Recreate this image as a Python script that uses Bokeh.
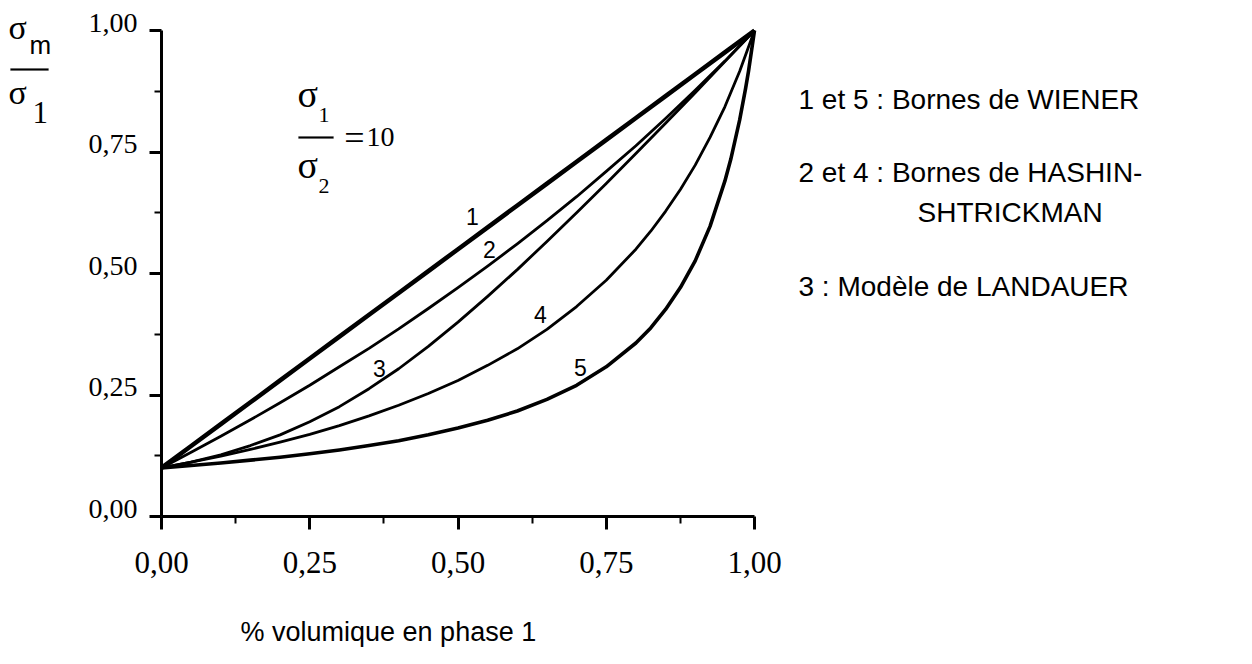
from bokeh.plotting import figure
from bokeh.models import FixedTicker, Label, PolyAnnotation, Range1d, LinearAxis
from bokeh.embed import file_html
from bokeh.resources import INLINE

# ---------------- data ----------------
tick_values = [0.0, 0.25, 0.5, 0.75, 1.0]
minor_values = [0.125, 0.375, 0.625, 0.875]
tick_labels = ["0,00", "0,25", "0,50", "0,75", "1,00"]

x_phase = [0.00, 0.05, 0.10, 0.15, 0.20, 0.25, 0.30, 0.35, 0.40, 0.45, 0.50,
           0.55, 0.60, 0.65, 0.70, 0.75, 0.80, 0.85, 0.90, 0.95, 1.00]
wiener_upper = [0.100, 0.145, 0.190, 0.235, 0.280, 0.325, 0.370, 0.415, 0.460, 0.505, 0.550,
                0.595, 0.640, 0.685, 0.730, 0.775, 0.820, 0.865, 0.910, 0.955, 1.000]
hs_upper = [0.100, 0.132, 0.165, 0.199, 0.234, 0.270, 0.308, 0.346, 0.386, 0.428, 0.471,
            0.515, 0.561, 0.609, 0.658, 0.710, 0.763, 0.819, 0.877, 0.937, 1.000]
landauer = [0.100, 0.112, 0.127, 0.146, 0.168, 0.195, 0.226, 0.263, 0.304, 0.350, 0.400,
            0.453, 0.508, 0.566, 0.625, 0.685, 0.747, 0.809, 0.872, 0.936, 1.000]
x_hs_lower = [0.00, 0.05, 0.10, 0.15, 0.20, 0.25, 0.30, 0.35, 0.40, 0.45, 0.50,
              0.55, 0.60, 0.65, 0.70, 0.75, 0.80, 0.825, 0.85, 0.875, 0.90, 0.925, 0.95, 0.975, 1.00]
hs_lower = [0.100, 0.112, 0.124, 0.138, 0.153, 0.169, 0.187, 0.207, 0.229, 0.253, 0.280,
            0.311, 0.345, 0.385, 0.432, 0.486, 0.550, 0.587, 0.628, 0.673, 0.723, 0.780, 0.843, 0.916, 1.000]
x_wiener_lower = [0.00, 0.05, 0.10, 0.15, 0.20, 0.25, 0.30, 0.35, 0.40, 0.45, 0.50,
                  0.55, 0.60, 0.65, 0.70, 0.75, 0.80, 0.825, 0.85, 0.875, 0.90, 0.925, 0.95,
                  0.96, 0.975, 0.985, 0.99, 1.00]
wiener_lower = [0.100, 0.105, 0.110, 0.116, 0.122, 0.129, 0.137, 0.146, 0.156, 0.168, 0.182,
                0.198, 0.217, 0.241, 0.270, 0.308, 0.357, 0.388, 0.426, 0.471, 0.526, 0.597, 0.690,
                0.735, 0.816, 0.881, 0.917, 1.000]

curve_names = ["1", "2", "3", "4", "5"]
legend_lines = ["1 et 5 : Bornes de WIENER", "2 et 4 : Bornes de HASHIN-",
                "SHTRICKMAN", "3 : Modèle de LANDAUER"]
x_title = "% volumique en phase 1"

SERIF = "Liberation Serif"
SANS = "Liberation Sans"

# ---------------- layout ----------------
W, H = 1236, 648
FL, FR = 161, 754      # pixel x of data 0 and data 1
FB, FT = 516, 30       # pixel y of data 0 and data 1
KX = FR - FL
KY = FB - FT
YLAB_LIFT = 8          # y tick labels sit slightly above their ticks


def dx(px):
    return (px - FL) / KX


def dy(py):
    return (FB - py) / KY


p = figure(width=W, height=H,
           x_range=Range1d(dx(0), dx(W)), y_range=Range1d(dy(H), dy(0)),
           output_backend="svg", toolbar_location=None)
p.extra_y_ranges = {"ylab": Range1d(dy(H) - YLAB_LIFT / KY, dy(0) - YLAB_LIFT / KY)}
p.min_border = 0
p.min_border_left = 0
p.min_border_right = 0
p.min_border_top = 0
p.min_border_bottom = 0
p.outline_line_color = None
p.grid.visible = False
p.background_fill_color = "white"
p.border_fill_color = "white"

for ax in (p.xaxis[0], p.yaxis[0]):
    ax.fixed_location = 0
    ax.bounds = (0, 1)
    ax.ticker = FixedTicker(ticks=tick_values, minor_ticks=minor_values)
    ax.major_label_overrides = dict(zip(tick_values, tick_labels))
    ax.axis_line_width = 3
    ax.axis_line_color = "black"
    ax.major_tick_line_width = 3
    ax.minor_tick_line_width = 2
    ax.major_tick_in = 0
    ax.minor_tick_in = 0
    ax.major_label_text_font = SERIF
    ax.major_label_text_color = "black"

p.xaxis.major_tick_out = 13
p.xaxis.minor_tick_out = 7
p.xaxis.major_label_text_font_size = "31px"
p.xaxis.major_label_standoff = 22

p.yaxis.major_tick_out = 12
p.yaxis.minor_tick_out = 7
p.yaxis.major_label_text_color = None   # labels drawn by the label axis below

ylab_axis = LinearAxis(y_range_name="ylab", fixed_location=0, bounds=(0, 1),
                       ticker=FixedTicker(ticks=tick_values, minor_ticks=[]),
                       major_label_overrides=dict(zip(tick_values, tick_labels)),
                       axis_line_color=None, major_tick_line_color=None,
                       minor_tick_line_color=None, major_tick_in=0, major_tick_out=12,
                       minor_tick_in=0, minor_tick_out=0,
                       major_label_standoff=12, major_label_text_font=SERIF,
                       major_label_text_font_size="28px", major_label_text_color="black")
p.add_layout(ylab_axis, "left")

# curves
p.line(x_phase, wiener_upper, line_color="black", line_width=4.5, line_join="round")
p.line(x_phase, hs_upper, line_color="black", line_width=2.8, line_join="round")
p.line(x_phase, landauer, line_color="black", line_width=2.8, line_join="round")
p.line(x_hs_lower, hs_lower, line_color="black", line_width=2.8, line_join="round")
p.line(x_wiener_lower, wiener_lower, line_color="black", line_width=3.6, line_join="round")

K_MID = 0.38  # distance from the "middle" anchor down to the baseline, in em


def lab(text, px, base_py, font, size_px, align="left"):
    p.add_layout(Label(x=dx(px), y=dy(base_py - K_MID * size_px), text=text,
                       text_font=font, text_font_size=f"{size_px}px",
                       text_color="black", text_align=align, text_baseline="middle"))


def hline(px0, px1, py, w=2):
    p.add_layout(PolyAnnotation(xs=[dx(px0), dx(px1), dx(px1), dx(px0)],
                                ys=[dy(py - w / 2), dy(py - w / 2), dy(py + w / 2), dy(py + w / 2)],
                                fill_color="black", fill_alpha=1.0,
                                line_color="black", line_width=0.5))


# curve numbers (baselines)
curve_pos = [(472, 225), (489, 258), (379, 377), (540, 323), (580, 376)]
for name, (px, py) in zip(curve_names, curve_pos):
    lab(name, px, py, SANS, 23, align="center")

# y-axis title: sigma_m / sigma_1
lab("σ", 8, 40, SERIF, 34)
lab("m", 29, 54, SANS, 26)
hline(10, 48, 69)
lab("σ", 8, 105, SERIF, 34)
lab("1", 32, 124, SERIF, 31)

# ratio annotation sigma_1 / sigma_2 = 10
lab("σ", 297, 108, SERIF, 38)
lab("1", 318, 123, SERIF, 22)
hline(298, 333, 137)
lab("=", 354, 151, SERIF, 36, align="center")
lab("10", 366, 147, SERIF, 28)
lab("σ", 297, 179, SERIF, 38)
lab("2", 318, 194, SERIF, 22)

# right-hand legend text
legend_pos = [(798, 110), (798, 183), (917, 223), (798, 297)]
for t, (px, py) in zip(legend_lines, legend_pos):
    lab(t, px, py, SANS, 28)

# x-axis title
lab(x_title, 240, 642, SANS, 27)

open("out.html", "w").write(file_html(p, INLINE))
